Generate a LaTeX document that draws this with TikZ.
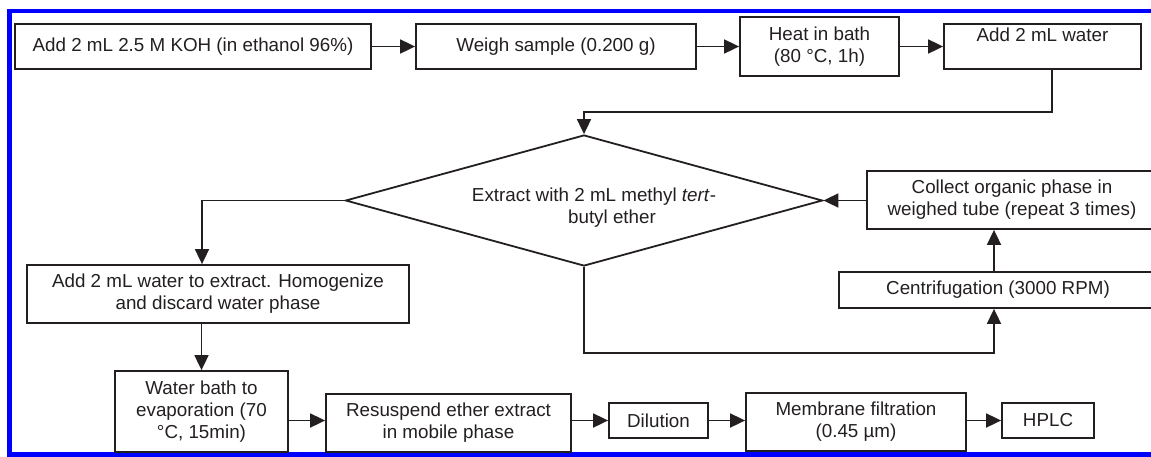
\documentclass[tikz,border=0pt]{standalone}
\usepackage{fontspec}
\setmainfont{Liberation Sans}
\usetikzlibrary{arrows.meta,shapes.geometric,calc}
\definecolor{ink}{RGB}{35,31,32}
\definecolor{framecol}{RGB}{0,0,255}
\begin{document}
\begin{tikzpicture}[x=1pt,y=-1pt,
  every node/.style={font=\fontsize{18.8}{22}\selectfont, text=ink},
  stepbox/.style={draw=ink, line width=1.8pt, inner sep=0pt, align=center},
  arr/.style={draw=ink, line width=1.8pt, -{Triangle[length=15pt,width=14pt]}},
  ln/.style={draw=ink, line width=1.8pt}]
\useasboundingbox (0,0) rectangle (1151,456);
\clip (0,0) rectangle (1151,456);
\draw[framecol, line width=4.5pt] (9.5,11) rectangle (1175,454.5);

% top row
\node[stepbox, minimum width=356pt, minimum height=45pt] (b1) at (193,46.5) {Add 2 mL 2.5 M KOH (in ethanol 96\%)};
\node[stepbox, minimum width=280pt, minimum height=45pt] (b2) at (556,46.5) {Weigh sample (0.200 g)};
\node[stepbox, minimum width=159pt, minimum height=59pt] (b3) at (819.5,46.5) {Heat in bath\\(80 °C, 1h)};
\node[stepbox, minimum width=197pt, minimum height=45pt, text height=13.5pt, text depth=23pt] (b4) at (1042.5,46.5) {Add 2 mL water};

% diamond
\node[diamond, draw=ink, line width=1.8pt, inner sep=0pt, shape aspect=3.6, minimum width=477pt, minimum height=131pt] (ext) at (584,200.5) {};
\node[align=center, inner sep=0pt] (exttxt) at (594,208) {Extract with 2 mL methyl \textit{tert}-\\\hspace*{36pt}butyl ether};

% right loop
\node[stepbox, minimum width=290pt, minimum height=58pt] (col) at (1012,200) {Collect organic phase in\\weighed tube (repeat 3 times)};
\node[stepbox, minimum width=318pt, minimum height=36pt] (cen) at (998,290) {Centrifugation (3000 RPM)};

% left column
\node[stepbox, minimum width=382pt, minimum height=58pt] (hom) at (218,294) {Add 2 mL water to extract. Homogenize\\and discard water phase};
\node[stepbox, minimum width=173pt, minimum height=81pt] (wb) at (201.5,411.5) {Water bath to\\evaporation (70\\°C, 15min)};

% bottom row
\node[stepbox, minimum width=245pt, minimum height=58pt] (res) at (448.5,423) {Resuspend ether extract\\in mobile phase};
\node[stepbox, minimum width=99pt, minimum height=35pt] (dil) at (658.5,420.5) {Dilution};
\node[stepbox, minimum width=220pt, minimum height=58pt] (mem) at (856,422) {Membrane filtration\\(0.45 µm)};
\node[stepbox, minimum width=92pt, minimum height=35pt] (hplc) at (1048,420.5) {HPLC};

% connectors top row
\draw[arr] (b1) -- (b2);
\draw[arr] (b2) -- (b3);
\draw[arr] (b3.east |- b4.west) -- (b4.west);
\draw[arr] ([xshift=9.5pt]b4.south) |- ([yshift=22pt]ext.north) -- (ext.north);

% diamond connectors
\draw[arr] (col.west |- ext.east) -- (ext.east);
\draw[arr] (ext.west) -| ([xshift=-16pt]hom.north);
\draw[arr] (wb.north |- hom.south) -- (wb.north);
\draw[arr] (ext.south) |- ($([xshift=-4pt]cen.south)+(0,44)$) -- ([xshift=-4pt]cen.south);
\draw[arr] ([xshift=-4pt]cen.north) -- ([xshift=-4pt]cen.north |- col.south);

% bottom row connectors
\draw[arr] (wb.east |- dil.west) -- (res.west |- dil.west);
\draw[arr] (res.east |- dil.west) -- (dil.west);
\draw[arr] (dil.east) -- (mem.west |- dil.east);
\draw[arr] (mem.east |- hplc.west) -- (hplc.west);
\end{tikzpicture}
\end{document}
